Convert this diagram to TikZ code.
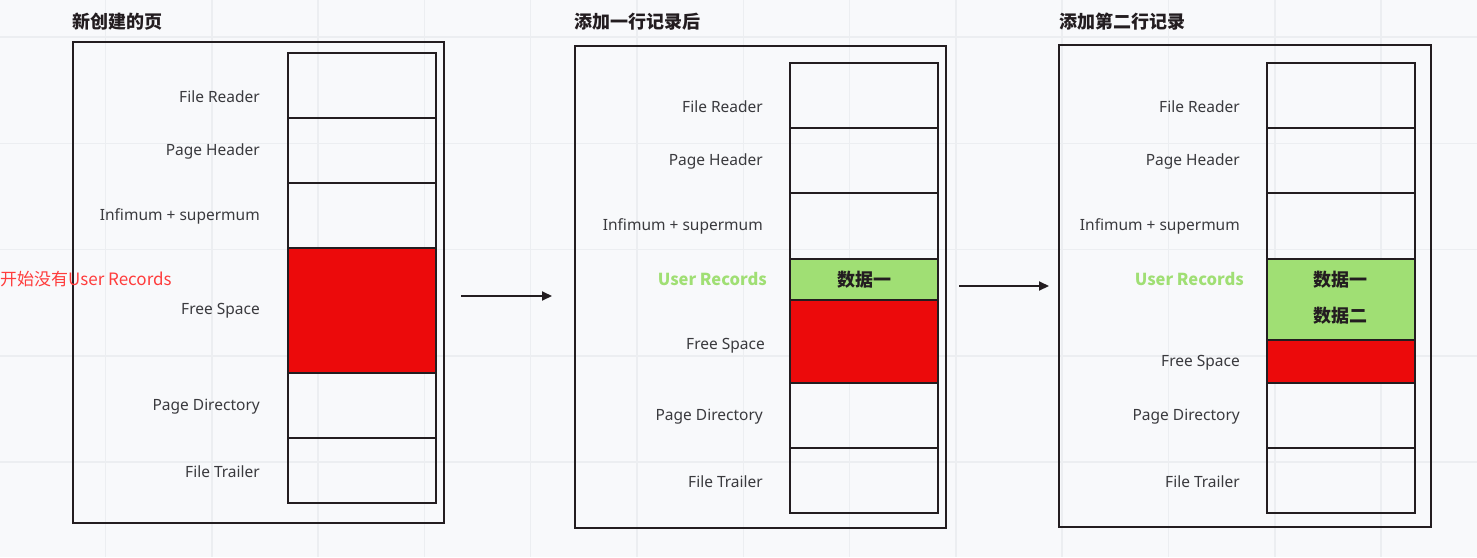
\documentclass[tikz,border=0pt]{standalone}
\usepackage{fontspec}
\setmainfont{Noto Sans}
\newfontfamily\cjk{Noto Sans CJK SC}
\usetikzlibrary{arrows.meta}
\definecolor{bgc}{RGB}{248,249,251}
\definecolor{gridc}{RGB}{236,238,241}
\definecolor{linec}{RGB}{35,29,32}
\definecolor{txtc}{RGB}{58,58,62}
\definecolor{redf}{RGB}{236,10,11}
\definecolor{greenf}{RGB}{160,223,116}
\definecolor{redt}{RGB}{255,60,60}
\tikzset{
  cell/.style={draw=linec, line width=2.4pt, rectangle, inner sep=0pt, anchor=north west, minimum width=148pt},
  outer/.style={draw=linec, line width=2.4pt, rectangle, inner sep=0pt, anchor=north west},
  lbl/.style={anchor=east, inner sep=0pt, text=txtc, font=\fontsize{15.5}{18}\selectfont},
  ulbl/.style={anchor=east, inner sep=0pt, text=greenf, font=\cjk\fontsize{16.5}{18}\selectfont\bfseries},
  title/.style={anchor=west, inner sep=0pt, text=linec, font=\cjk\fontsize{18}{20}\selectfont\bfseries},
  data/.style={inner sep=0pt, text=linec, font=\cjk\fontsize{18}{20}\selectfont\bfseries},
  conn/.style={draw=linec, line width=2pt, -{Triangle[length=10pt,width=9pt]}}
}
\begin{document}
\begin{tikzpicture}[x=1pt,y=-1pt]
\fill[bgc] (0,0) rectangle (1477,557);
\useasboundingbox (0,0) rectangle (1477,557);
\foreach \i in {0,...,13} \draw[gridc, line width=1.5pt] ({105.5+106.3*\i},0) -- ({105.5+106.3*\i},557);
\foreach \i in {0,...,5} \draw[gridc, line width=1.5pt] (0,{37+106.3*\i}) -- (1477,{37+106.3*\i});

% Panel 1
\node[title] (t1) at (72,22) {新创建的页};
\node[outer, minimum width=371pt, minimum height=481pt] (o1) at (72,41) {};
\node[cell, minimum height=65pt] (p1a) at (287,52) {};
\node[cell, minimum height=65pt] (p1b) at (287,117) {};
\node[cell, minimum height=65pt] (p1c) at (287,182) {};
\node[cell, minimum height=125pt, fill=redf] (p1d) at (287,247) {};
\node[cell, minimum height=65pt] (p1e) at (287,372) {};
\node[cell, minimum height=65pt] (p1f) at (287,437) {};
\node[lbl] (l1a) at (260,97) {File Reader};
\node[lbl] (l1b) at (260,151) {Page Header};
\node[lbl] (l1c) at (260,216) {Infimum + supermum};
\node[lbl] (l1d) at (260,311) {Free Space};
\node[lbl] (l1e) at (260,407) {Page Directory};
\node[lbl] (l1f) at (260,472) {File Trailer};
\node[anchor=west, inner sep=0pt, text=redt, font=\cjk\fontsize{17}{20}\selectfont] (note) at (0,279) {开始没有User Records};

% Arrow 1
\coordinate (a1s) at (461,296);
\coordinate (a1e) at (552,296);
\draw[conn] (a1s) -- (a1e);

% Panel 2
\node[title] (t2) at (574,22) {添加一行记录后};
\node[outer, minimum width=371pt, minimum height=482pt] (o2) at (574,45) {};
\node[cell, minimum height=65pt] (p2a) at (789,62) {};
\node[cell, minimum height=65pt] (p2b) at (789,127) {};
\node[cell, minimum height=66pt] (p2c) at (789,192) {};
\node[cell, minimum height=41pt, fill=greenf] (p2d) at (789,258) {};
\node[cell, minimum height=83pt, fill=redf] (p2e) at (789,299) {};
\node[cell, minimum height=65pt] (p2f) at (789,382) {};
\node[cell, minimum height=65pt] (p2g) at (789,447) {};
\node[data] (d2a) at (p2d.center) {数据一};
\node[lbl] (l2a) at (763,107) {File Reader};
\node[lbl] (l2b) at (763,161) {Page Header};
\node[lbl] (l2c) at (763,226) {Infimum + supermum};
\node[ulbl] (l2d) at (767,279) {User Records};
\node[lbl] (l2e) at (765,346) {Free Space};
\node[lbl] (l2f) at (763,417) {Page Directory};
\node[lbl] (l2g) at (763,482) {File Trailer};

% Arrow 2
\coordinate (a2s) at (959,286);
\coordinate (a2e) at (1049,286);
\draw[conn] (a2s) -- (a2e);

% Panel 3
\node[title] (t3) at (1059,22) {添加第二行记录};
\node[outer, minimum width=372pt, minimum height=482pt] (o3) at (1058,44) {};
\node[cell, minimum height=65pt] (p3a) at (1266,62) {};
\node[cell, minimum height=65pt] (p3b) at (1266,127) {};
\node[cell, minimum height=66pt] (p3c) at (1266,192) {};
\node[cell, minimum height=81pt, fill=greenf] (p3d) at (1266,258) {};
\node[cell, minimum height=43pt, fill=redf] (p3e) at (1266,339) {};
\node[cell, minimum height=65pt] (p3f) at (1266,382) {};
\node[cell, minimum height=65pt] (p3g) at (1266,447) {};
\node[data] (d3a) at (1340,280) {数据一};
\node[data] (d3b) at (1340,316) {数据二};
\node[lbl] (l3a) at (1240,107) {File Reader};
\node[lbl] (l3b) at (1240,161) {Page Header};
\node[lbl] (l3c) at (1240,226) {Infimum + supermum};
\node[ulbl] (l3d) at (1244,279) {User Records};
\node[lbl] (l3e) at (1240,363) {Free Space};
\node[lbl] (l3f) at (1240,417) {Page Directory};
\node[lbl] (l3g) at (1240,482) {File Trailer};
\end{tikzpicture}
\end{document}
